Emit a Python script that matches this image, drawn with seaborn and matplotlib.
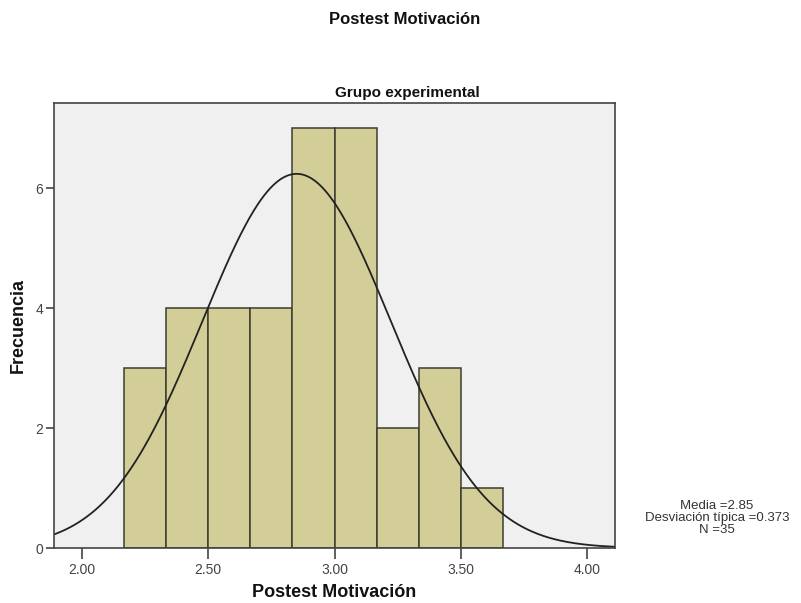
import numpy as np
import pandas as pd
import matplotlib
matplotlib.use("Agg")
import matplotlib.pyplot as plt
import seaborn as sns

# Data
bin_left_edges = [2.1667, 2.3333, 2.5, 2.6667, 2.8333, 3.0, 3.1667, 3.3333, 3.5]
bin_width = 1 / 6
counts = [3, 4, 4, 4, 7, 7, 2, 3, 1]
mean_val = 2.85
sd_val = 0.373
n_val = 35
x_ticks = [2.00, 2.50, 3.00, 3.50, 4.00]
y_ticks = [0, 2, 4, 6]

sns.set_theme(style="white")
plt.rcParams['font.family'] = ['Liberation Sans', 'DejaVu Sans']

edges = list(bin_left_edges) + [bin_left_edges[-1] + bin_width]
centers = [e + bin_width / 2 for e in bin_left_edges]
df = pd.DataFrame({"x": centers, "w": counts})

fig = plt.figure(figsize=(8.01, 6.03), dpi=100)
ax = fig.add_axes([54 / 801, 55 / 603, (615 - 54) / 801, (548 - 103) / 603])
ax.set_facecolor("#f0f0f0")

sns.histplot(data=df, x="x", weights="w", bins=edges, ax=ax,
             color="#d3ce98", alpha=1.0, edgecolor="#3c3c30", linewidth=1.1)

xs = np.linspace(1.85, 4.15, 400)
ys = n_val * bin_width * np.exp(-0.5 * ((xs - mean_val) / sd_val) ** 2) / (sd_val * np.sqrt(2 * np.pi))
sns.lineplot(x=xs, y=ys, ax=ax, color="#222222", linewidth=1.3)

ax.set_xlim(1.889, 4.111)
ax.set_ylim(0, 7.42)
ax.set_xticks(x_ticks)
ax.set_xticklabels([f"{t:.2f}" for t in x_ticks])
ax.set_yticks(y_ticks)
ax.set_yticklabels([str(t) for t in y_ticks])
ax.tick_params(axis="x", direction="out", length=8, width=1.2, color="#444444",
               labelsize=10, labelcolor="#444444", bottom=True, pad=3)
ax.tick_params(axis="y", direction="out", length=6, width=1.2, color="#444444",
               labelsize=10, labelcolor="#444444", left=True, pad=2)
for s in ax.spines.values():
    s.set_color("#444444")
    s.set_linewidth(1.2)

ax.set_xlabel("Postest Motivación", fontsize=13, fontweight="bold", color="#111111", labelpad=5)
ax.set_ylabel("Frecuencia", fontsize=13, fontweight="bold", color="#111111", labelpad=6)

fig.text(405 / 801, 1 - 20 / 603, "Postest Motivación", ha="center", va="center",
         fontsize=12, fontweight="bold", color="#111111")
fig.text(407 / 801, 1 - 93 / 603, "Grupo experimental", ha="center", va="center",
         fontsize=11, fontweight="bold", color="#111111")
fig.text(717 / 801, 1 - 518 / 603,
         f"Media ={mean_val}\nDesviación típica ={sd_val}\nN ={n_val}",
         ha="center", va="center", fontsize=9.5, color="#333333", linespacing=0.95)

fig.savefig("out.png", dpi=100, facecolor="white")
